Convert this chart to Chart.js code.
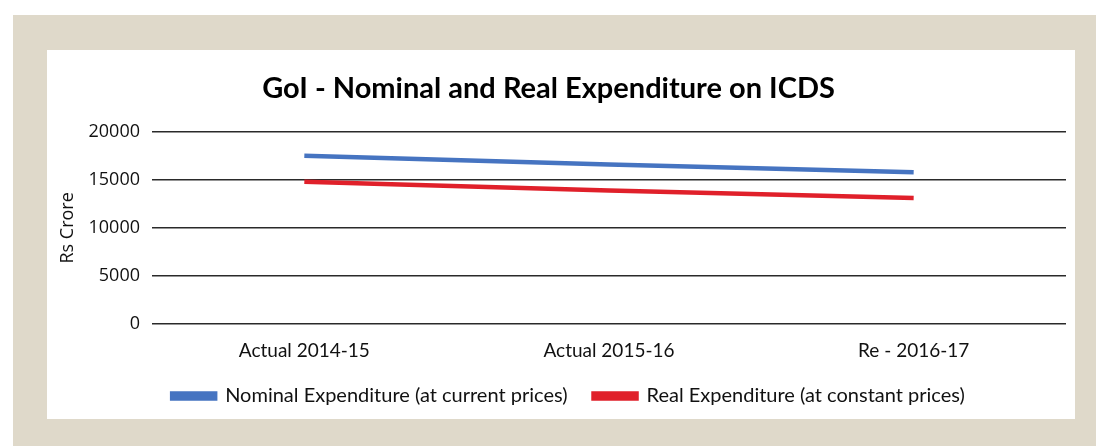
<!DOCTYPE html>
<html>
<head>
<meta charset="utf-8">
<script src="https://cdn.jsdelivr.net/npm/chart.js@4.4.0/dist/chart.umd.min.js"></script>
<style>
  html, body { margin: 0; padding: 0; background: #fff; }
  .frame { position: absolute; left: 13px; top: 15px; width: 1083px; height: 431px; background: #dfd9ca; }
  .panel { position: absolute; left: 34px; top: 35px; width: 1028px; height: 369px; background: #fff; }
</style>
</head>
<body>
<div class="frame">
  <div class="panel"><canvas id="chart" width="1028" height="369"></canvas></div>
</div>
<script>
const categories = ["Actual 2014-15", "Actual 2015-16", "Re - 2016-17"];
const nominal = [17500, 16600, 15800];
const real = [14800, 13900, 13100];
const yTicks = [0, 5000, 10000, 15000, 20000];

const ctx = document.getElementById("chart");

// title and legend are not quite centred in the original
const nudgeBoxes = {
    id: "nudgeBoxes",
    afterLayout(chart) {
        chart.legend.left += 12;
        chart.legend.right += 12;
        chart.legend.top -= 2;
        chart.legend.bottom -= 2;
        chart.titleBlock.left -= 8;
        chart.titleBlock.right -= 8;
    },
};

new Chart(ctx, {
    type: "line",
    data: {
        labels: categories,
        datasets: [
            {
                label: "Nominal Expenditure (at current prices)",
                data: nominal,
                borderColor: "#4674c1",
                backgroundColor: "#4674c1",
                borderWidth: 4.5,
                pointRadius: 0,
                tension: 0,
            },
            {
                label: "Real Expenditure (at constant prices)",
                data: real,
                borderColor: "#e0202a",
                backgroundColor: "#e0202a",
                borderWidth: 4.5,
                pointRadius: 0,
                tension: 0,
            },
        ],
    },
    plugins: [nudgeBoxes],
    options: {
        responsive: false,
        animation: false,
        layout: {
            padding: { left: 0, right: 9, top: 0, bottom: 1 },
        },
        plugins: {
            title: {
                display: true,
                text: "GoI - Nominal and Real Expenditure on ICDS",
                color: "#000",
                font: { family: "Lato", size: 29, weight: "bold" },
                padding: { top: 21, bottom: 26 },
            },
            legend: {
                position: "bottom",
                labels: {
                    color: "#111",
                    boxWidth: 43,
                    boxHeight: 5,
                    padding: 26,
                    font: { family: "Lato", size: 20 },
                },
            },
            tooltip: { enabled: false },
        },
        scales: {
            x: {
                offset: true,
                afterFit: (scale) => { scale.height = 38; },
                grid: { display: false, drawTicks: false },
                border: { display: false },
                ticks: {
                    color: "#111",
                    padding: 15,
                    font: { family: "Lato", size: 19 },
                },
            },
            y: {
                min: 0,
                max: 20000,
                afterFit: (scale) => { scale.width = 105; },
                afterBuildTicks: (scale) => {
                    scale.ticks = yTicks.map((v) => ({ value: v }));
                },
                border: { display: false },
                grid: {
                    color: "#2a2a2a",
                    lineWidth: 1.6,
                    drawTicks: false,
                },
                ticks: {
                    color: "#111",
                    padding: 12,
                    font: { family: "Open Sans", size: 18 },
                    callback: (v) => String(v),
                },
                title: {
                    display: true,
                    text: "Rs Crore",
                    color: "#111",
                    font: { family: "Open Sans", size: 18 },
                    padding: { top: 10, bottom: 0 },
                },
            },
        },
    },
});
</script>
</body>
</html>
